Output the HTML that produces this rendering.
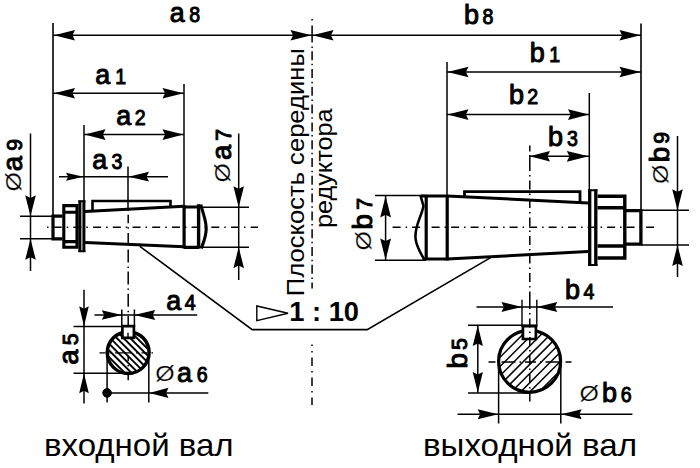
<!DOCTYPE html>
<html lang="ru"><head><meta charset="utf-8"><title>Валы редуктора</title>
<style>
html,body{margin:0;padding:0;background:#fff}
svg{display:block}
svg line,svg path,svg circle{stroke:#000}
.ah{fill:#000;stroke:none}
text{font-family:"Liberation Sans",sans-serif;fill:#000}
.lb text{stroke:#000;stroke-width:1px;stroke-linejoin:round}
.lb .dg{stroke-width:1px}
.lb text.dia{stroke:#fff;stroke-width:0.2px}
.bd{font-weight:bold}
</style></head><body>
<svg width="700" height="468" viewBox="0 0 700 468">
<rect width="700" height="468" fill="#fff"/>
<line x1="312.1" y1="18.9" x2="312.1" y2="288.5" stroke-width="1.5" stroke-dasharray="1.5 5 17 4 1.5 3.3 9 3.65 1.5 3.65 9 3.65 1.5 3.65 9 3.65 1.5 3.65 9 3.65 1.5 3.65 9 3.65 1.5 3.65 9 3.65 1.5 3.65 9 3.65 1.5 3.65 9 3.65 1.5 3.65 9 3.65 1.5 3.65 9 3.65 1.5 3.65 9 3.65 1.5 3.65 9 3.65 1.5 3.65 9 3.65 1.5 3.65 9 3.65 1.5 3.65 9 3.65 1.5 3.65 9 3.65 1.5 3.65"/>
<line x1="312" y1="344.5" x2="312" y2="405" stroke-width="1.5" stroke-dasharray="1.5 5 1.5 5 8.5 5 1.5 5 8.5 5 1.5 5 8.5 5"/>
<line x1="53" y1="23" x2="53" y2="216" stroke-width="1.6" />
<line x1="53" y1="35.3" x2="312" y2="35.3" stroke-width="1.5" />
<polygon class="ah" points="54.0,35.3 75.0,30.0 72.4,35.3 75.0,40.6"/>
<polygon class="ah" points="311.5,35.3 290.5,40.6 293.1,35.3 290.5,30.0"/>
<line x1="184" y1="84" x2="184" y2="206" stroke-width="1.5" />
<line x1="53" y1="93.3" x2="184" y2="93.3" stroke-width="1.5" />
<polygon class="ah" points="54.0,93.3 75.0,88.0 72.4,93.3 75.0,98.6"/>
<polygon class="ah" points="183.5,93.3 162.5,98.6 165.1,93.3 162.5,88.0"/>
<line x1="84" y1="125" x2="84" y2="210" stroke-width="1.5" />
<line x1="84" y1="134.6" x2="184" y2="134.6" stroke-width="1.5" />
<polygon class="ah" points="84.5,134.6 105.5,129.3 102.9,134.6 105.5,139.9"/>
<polygon class="ah" points="183.5,134.6 162.5,139.9 165.1,134.6 162.5,129.3"/>
<line x1="128" y1="166.5" x2="128" y2="211" stroke-width="1.5" />
<line x1="59" y1="176.7" x2="168" y2="176.7" stroke-width="1.5" />
<polygon class="ah" points="83.5,176.7 66.0,180.7 68.2,176.7 66.0,172.7"/>
<polygon class="ah" points="128.5,176.7 149.0,171.8 146.5,176.7 149.0,181.6"/>
<g class="lb" transform="translate(0,22.3)"><text font-size="26.8" transform="translate(169.87,0) scale(1.0,1)">a</text><text class="dg" font-size="21.3" transform="translate(189.22,0) scale(0.92,1)">8</text></g>
<g class="lb" transform="translate(0,84)"><text font-size="26.8" transform="translate(95.37,0) scale(1.0,1)">a</text><text class="dg" font-size="21.3" transform="translate(115.27,0) scale(0.92,1)">1</text></g>
<g class="lb" transform="translate(0,124.8)"><text font-size="26.8" transform="translate(116.37,0) scale(1.0,1)">a</text><text class="dg" font-size="21.3" transform="translate(134.68,0) scale(0.92,1)">2</text></g>
<g class="lb" transform="translate(0,168.7)"><text font-size="26.8" transform="translate(92.27,0) scale(1.0,1)">a</text><text class="dg" font-size="21.3" transform="translate(111.42,0) scale(0.92,1)">3</text></g>
<line x1="47" y1="227.3" x2="258" y2="227.3" stroke-width="1.5" stroke-dasharray="1.5 5.2 8 5"/>
<path d="M62.5,216.2 H53 V238.8 H62.5" stroke-width="3.2" fill="none"/>
<path d="M63.8,205.6 H77 V247.2 H63.8 Z M64,212.3 H77 M64,241.6 H77" stroke-width="3.1" fill="none"/>
<path d="M79.9,200.5 V252 M83.9,200.5 V252" stroke-width="3" fill="none"/>
<path d="M78.4,201.2 H85.4 M78.4,251.3 H85.4" stroke-width="2" fill="none"/>
<path d="M85,211.5 L184,206.3 M85,242.5 L184,246.8" stroke-width="3" fill="none"/>
<path d="M92.5,211 V201 H170.5 V206.5" stroke-width="2.6" fill="none"/>
<path d="M184.1,205 V248.5 M184,207 H199 M184,247.3 H199" stroke-width="3.2" fill="none"/>
<path d="M198.6,204.2 V248.6" stroke-width="3.4" fill="none"/>
<path d="M200.8,204.6 C202.5,212 206.2,220 206.2,228.5 C206.2,237 203.5,242 201.2,248.5" stroke-width="3.1" fill="none"/>
<line x1="199" y1="207.2" x2="249" y2="207.2" stroke-width="1.5" />
<line x1="199" y1="247.2" x2="249" y2="247.2" stroke-width="1.5" />
<line x1="20" y1="216.3" x2="53" y2="216.3" stroke-width="1.5" />
<line x1="20" y1="238.8" x2="53" y2="238.8" stroke-width="1.5" />
<line x1="30.5" y1="133.5" x2="30.5" y2="271" stroke-width="1.5" />
<polygon class="ah" points="30.5,216.3 25.2,195.3 30.5,197.9 35.8,195.3"/>
<polygon class="ah" points="30.5,238.8 35.8,259.8 30.5,257.2 25.2,259.8"/>
<g class="lb" transform="translate(21.9,0) rotate(-90)"><text class="dia" font-size="21.3" transform="translate(-191.61,-0.6) scale(1.17,1)">Ø</text><text font-size="26.8" transform="translate(-171.24,0) scale(1.03,1)">a</text><text class="dg" font-size="21.3" transform="translate(-150.7,0) scale(1.0,1)">9</text></g>
<line x1="238.7" y1="133.5" x2="238.7" y2="280" stroke-width="1.5" />
<polygon class="ah" points="238.7,207.2 233.4,186.2 238.7,188.8 244.0,186.2"/>
<polygon class="ah" points="238.7,247.2 244.0,268.2 238.7,265.6 233.4,268.2"/>
<g class="lb" transform="translate(230.5,0) rotate(-90)"><text class="dia" font-size="21.3" transform="translate(-182.41,-0.6) scale(1.17,1)">Ø</text><text font-size="26.8" transform="translate(-159.94,0) scale(1.03,1)">a</text><text class="dg" font-size="21.3" transform="translate(-140.69,0) scale(1.0,1)">7</text></g>
<path d="M139.8,246.3 L252.2,329.6 H367.2 L490.6,257.6" stroke-width="1.6" fill="none"/>
<path d="M256.8,306 V320.7 L288,313.2 Z" stroke-width="1.4" fill="none"/>
<text class="bd" x="289.2" y="321.2" font-size="27.3">1 : 10</text>
<text class="tx" transform="translate(303.8,296.2) rotate(-90)" font-size="24.3" textLength="248" lengthAdjust="spacingAndGlyphs">Плоскость середины</text>
<text class="tx" transform="translate(332.3,228) rotate(-90)" font-size="24.3" textLength="119.5" lengthAdjust="spacingAndGlyphs">редуктора</text>
<line x1="128.2" y1="214.7" x2="128.2" y2="246" stroke-width="1.5" stroke-dasharray="8.5 4 1.5 4.2 11.5 5"/>
<line x1="128.2" y1="249.4" x2="128.2" y2="329" stroke-width="1.5" stroke-dasharray="13 4 1.5 3.7"/>
<line x1="128.2" y1="341" x2="128.2" y2="381" stroke-width="1.5" stroke-dasharray="0 14.4 5.6 4 1.5 8.4 5.4 5"/>
<clipPath id="cl"><circle cx="128.2" cy="352.6" r="20.9"/></clipPath>
<g clip-path="url(#cl)" stroke-width="1.9"><line x1="47.7" y1="322.6" x2="107.7" y2="382.6"/><line x1="54.4" y1="322.6" x2="114.4" y2="382.6"/><line x1="61.1" y1="322.6" x2="121.1" y2="382.6"/><line x1="67.8" y1="322.6" x2="127.8" y2="382.6"/><line x1="74.5" y1="322.6" x2="134.5" y2="382.6"/><line x1="81.2" y1="322.6" x2="141.2" y2="382.6"/><line x1="87.9" y1="322.6" x2="147.9" y2="382.6"/><line x1="94.6" y1="322.6" x2="154.6" y2="382.6"/><line x1="101.3" y1="322.6" x2="161.3" y2="382.6"/><line x1="108.0" y1="322.6" x2="168.0" y2="382.6"/><line x1="114.7" y1="322.6" x2="174.7" y2="382.6"/><line x1="121.4" y1="322.6" x2="181.4" y2="382.6"/><line x1="128.1" y1="322.6" x2="188.1" y2="382.6"/><line x1="134.8" y1="322.6" x2="194.8" y2="382.6"/><line x1="141.5" y1="322.6" x2="201.5" y2="382.6"/><line x1="148.2" y1="322.6" x2="208.2" y2="382.6"/><line x1="154.9" y1="322.6" x2="214.9" y2="382.6"/></g>
<circle cx="128.2" cy="352.6" r="20.9" fill="none" stroke-width="3.5"/>
<rect x="122.4" y="326.2" width="11.5" height="11.6" fill="#fff" stroke="none"/>
<path d="M122.4,326.2 H133.9 V337.8 H122.4 Z" stroke-width="2.7" fill="none"/>
<line x1="128" y1="332.7" x2="128" y2="337" stroke-width="1.4" />
<line x1="121.8" y1="309.5" x2="121.8" y2="327" stroke-width="1.5" />
<line x1="134.4" y1="309.5" x2="134.4" y2="327" stroke-width="1.5" />
<line x1="99.5" y1="352.8" x2="153.5" y2="352.8" stroke-width="1.3" stroke-dasharray="6 4 1.5 4 17 4 1.5 4 6 4 1.5"/>
<line x1="94.5" y1="315" x2="197.2" y2="315" stroke-width="1.5" />
<polygon class="ah" points="121.8,315.0 101.8,319.8 104.2,315.0 101.8,310.2"/>
<polygon class="ah" points="134.2,315.0 155.2,310.0 152.7,315.0 155.2,320.0"/>
<g class="lb" transform="translate(0,310)"><text font-size="26.8" transform="translate(166.17,0) scale(1.0,1)">a</text><text class="dg" font-size="21.3" transform="translate(184.71,0) scale(0.92,1)">4</text></g>
<line x1="73.5" y1="326.5" x2="122" y2="326.5" stroke-width="1.5" />
<line x1="73.5" y1="373.3" x2="127.5" y2="373.3" stroke-width="1.4" />
<line x1="84" y1="289.7" x2="84" y2="403.6" stroke-width="1.5" />
<polygon class="ah" points="84.0,326.3 79.2,306.3 84.0,308.7 88.8,306.3"/>
<polygon class="ah" points="84.0,373.2 88.8,393.2 84.0,390.8 79.2,393.2"/>
<g class="lb" transform="translate(77.8,0) rotate(-90)"><text font-size="26.8" transform="translate(-364.74,0) scale(1.03,1)">a</text><text class="dg" font-size="21.3" transform="translate(-345.35,0) scale(1.0,1)">5</text></g>
<line x1="107.1" y1="352" x2="107.1" y2="402.6" stroke-width="1.5" />
<line x1="148.8" y1="352" x2="148.8" y2="402.6" stroke-width="1.5" />
<line x1="107" y1="392.9" x2="208.3" y2="392.9" stroke-width="1.5" />
<polygon class="ah" points="149.2,392.9 168.5,387.8 166.1,392.9 168.5,398.0"/>
<circle cx="107.1" cy="392.9" r="4.3" fill="#000" stroke="none"/>
<g class="lb" transform="translate(0,382)"><text class="dia" font-size="21.3" transform="translate(155.19,-0.6) scale(1.17,1)">Ø</text><text font-size="26.8" transform="translate(176.97,0) scale(1.0,1)">a</text><text class="dg" font-size="21.3" transform="translate(196.76,0) scale(0.92,1)">6</text></g>
<line x1="641" y1="23.5" x2="641" y2="210" stroke-width="1.6" />
<line x1="312" y1="35.3" x2="641" y2="35.3" stroke-width="1.5" />
<polygon class="ah" points="312.5,35.3 333.5,30.0 330.9,35.3 333.5,40.6"/>
<polygon class="ah" points="640.5,35.3 619.5,40.6 622.1,35.3 619.5,30.0"/>
<line x1="447" y1="62" x2="447" y2="196" stroke-width="1.5" />
<line x1="447" y1="72" x2="641" y2="72" stroke-width="1.5" />
<polygon class="ah" points="447.5,72.0 468.5,66.7 465.9,72.0 468.5,77.3"/>
<polygon class="ah" points="640.5,72.0 619.5,77.3 622.1,72.0 619.5,66.7"/>
<line x1="589.3" y1="93" x2="589.3" y2="190" stroke-width="1.5" />
<line x1="447" y1="114.6" x2="589.3" y2="114.6" stroke-width="1.5" />
<polygon class="ah" points="447.5,114.6 468.5,109.3 465.9,114.6 468.5,119.9"/>
<polygon class="ah" points="589.0,114.6 568.0,119.9 570.6,114.6 568.0,109.3"/>
<line x1="530" y1="156.3" x2="589.3" y2="156.3" stroke-width="1.5" />
<polygon class="ah" points="529.5,156.3 550.0,151.1 547.5,156.3 550.0,161.5"/>
<polygon class="ah" points="588.8,156.3 566.8,161.7 569.4,156.3 566.8,150.9"/>
<g class="lb" transform="translate(0,24.2)"><text font-size="27" transform="translate(463.97,0) scale(1.0,1)">b</text><text class="dg" font-size="21.3" transform="translate(482.62,0) scale(0.92,1)">8</text></g>
<g class="lb" transform="translate(0,61.7)"><text font-size="27" transform="translate(529.77,0) scale(1.0,1)">b</text><text class="dg" font-size="21.3" transform="translate(549.27,0) scale(0.92,1)">1</text></g>
<g class="lb" transform="translate(0,104)"><text font-size="27" transform="translate(508.97,0) scale(1.0,1)">b</text><text class="dg" font-size="21.3" transform="translate(527.28,0) scale(0.92,1)">2</text></g>
<g class="lb" transform="translate(0,145.5)"><text font-size="27" transform="translate(548.07,0) scale(1.0,1)">b</text><text class="dg" font-size="21.3" transform="translate(566.92,0) scale(0.92,1)">3</text></g>
<line x1="392.6" y1="227.3" x2="655" y2="227.3" stroke-width="1.5" stroke-dasharray="8 5 1.5 5"/>
<line x1="529.8" y1="145.6" x2="529.8" y2="300" stroke-width="1.5" stroke-dasharray="6 3.5 16 4 1.5 4 9 4 1.5 4 9 4 1.5 4 9 4 1.5 4 9 4 1.5 4 9 4 1.5 4 9 4 1.5 4 9 4 1.5 4 9 4 1.5 4 9 4 1.5 4 9 4 1.5 4 9 4 1.5 4"/>
<path d="M421,196 H447.2 M424,259 H447.2" stroke-width="3" fill="none"/>
<path d="M426.2,196 V259 M447.2,195 V260.5" stroke-width="3.2" fill="none"/>
<path d="M420.3,195 L423.5,206 C421,218 414.5,226 415.5,238 C416,246 420,252 424.5,260" stroke-width="2.6" fill="none"/>
<path d="M447.2,196 L588,203 M447.2,259 L588,251.5" stroke-width="3" fill="none"/>
<path d="M464.5,196.5 V191.7 H580 V202" stroke-width="2.8" fill="none"/>
<path d="M589.7,189.5 V265.7 M595.8,189.5 V265.7" stroke-width="3.3" fill="none"/>
<path d="M588,190.2 H597.5 M588,265 H597.5" stroke-width="2" fill="none"/>
<path d="M597.5,196.2 H624.8 V258 H597.5 M597.5,207.8 H625 M597.5,246 H625" stroke-width="3.4" fill="none"/>
<path d="M625,210.7 H640.9 V244.2 H625" stroke-width="3.3" fill="none"/>
<line x1="375" y1="195.6" x2="426" y2="195.6" stroke-width="1.5" />
<line x1="375" y1="260.3" x2="426" y2="260.3" stroke-width="1.5" />
<line x1="385.6" y1="195.6" x2="385.6" y2="260.2" stroke-width="1.5" />
<polygon class="ah" points="385.6,195.9 391.0,217.4 385.6,214.8 380.2,217.4"/>
<polygon class="ah" points="385.6,260.0 380.2,238.5 385.6,241.1 391.0,238.5"/>
<g class="lb" transform="translate(372,0) rotate(-90)"><text class="dia" font-size="21.3" transform="translate(-250.61,-0.6) scale(1.17,1)">Ø</text><text font-size="27" transform="translate(-229.46,0) scale(1.03,1)">b</text><text class="dg" font-size="21.3" transform="translate(-209.79,0) scale(1.0,1)">7</text></g>
<line x1="641" y1="210.2" x2="689" y2="210.2" stroke-width="1.5" />
<line x1="641" y1="245" x2="689" y2="245" stroke-width="1.5" />
<line x1="677.5" y1="136" x2="677.5" y2="277" stroke-width="1.5" />
<polygon class="ah" points="677.5,210.2 672.2,189.2 677.5,191.8 682.8,189.2"/>
<polygon class="ah" points="677.5,245.0 682.8,266.0 677.5,263.4 672.2,266.0"/>
<g class="lb" transform="translate(669,0) rotate(-90)"><text class="dia" font-size="21.3" transform="translate(-184.11,-0.6) scale(1.17,1)">Ø</text><text font-size="27" transform="translate(-162.36,0) scale(1.03,1)">b</text><text class="dg" font-size="21.3" transform="translate(-143.8,0) scale(1.0,1)">9</text></g>
<clipPath id="cr"><circle cx="529.6" cy="361.3" r="31"/></clipPath>
<g clip-path="url(#cr)" stroke-width="1.5"><line x1="400.8" y1="401.3" x2="480.8" y2="321.3"/><line x1="410.0" y1="401.3" x2="490.0" y2="321.3"/><line x1="419.2" y1="401.3" x2="499.2" y2="321.3"/><line x1="428.4" y1="401.3" x2="508.4" y2="321.3"/><line x1="437.6" y1="401.3" x2="517.6" y2="321.3"/><line x1="446.8" y1="401.3" x2="526.8" y2="321.3"/><line x1="456.0" y1="401.3" x2="536.0" y2="321.3"/><line x1="465.2" y1="401.3" x2="545.2" y2="321.3"/><line x1="474.4" y1="401.3" x2="554.4" y2="321.3"/><line x1="483.6" y1="401.3" x2="563.6" y2="321.3"/><line x1="492.8" y1="401.3" x2="572.8" y2="321.3"/><line x1="502.0" y1="401.3" x2="582.0" y2="321.3"/><line x1="511.2" y1="401.3" x2="591.2" y2="321.3"/><line x1="520.4" y1="401.3" x2="600.4" y2="321.3"/><line x1="529.6" y1="401.3" x2="609.6" y2="321.3"/><line x1="538.8" y1="401.3" x2="618.8" y2="321.3"/><line x1="548.0" y1="401.3" x2="628.0" y2="321.3"/><line x1="557.2" y1="401.3" x2="637.2" y2="321.3"/><line x1="566.4" y1="401.3" x2="646.4" y2="321.3"/><line x1="575.6" y1="401.3" x2="655.6" y2="321.3"/><line x1="584.8" y1="401.3" x2="664.8" y2="321.3"/></g>
<circle cx="529.6" cy="361.3" r="31" fill="none" stroke-width="3.2"/>
<rect x="522.9" y="326" width="13" height="13" fill="#fff" stroke="none"/>
<path d="M522.9,326.2 V339 H535.9 V326.2 Z" stroke-width="2.7" fill="none"/>
<line x1="522" y1="299.8" x2="522" y2="327" stroke-width="1.4" />
<line x1="536.8" y1="299.8" x2="536.8" y2="327" stroke-width="1.4" />
<line x1="488.5" y1="362" x2="571.5" y2="362" stroke-width="1.3" stroke-dasharray="7 6 14 4 1.5 4 11 4 1.5 4 14 6 7"/>
<line x1="529.8000000000001" y1="300" x2="529.8000000000001" y2="404" stroke-width="1.5" stroke-dasharray="9 4 1.5 4"/>
<line x1="476.5" y1="306.9" x2="613" y2="306.9" stroke-width="1.5" />
<polygon class="ah" points="522.0,306.9 501.5,311.9 503.9,306.9 501.5,301.9"/>
<polygon class="ah" points="536.8,306.9 557.3,301.9 554.9,306.9 557.3,311.9"/>
<g class="lb" transform="translate(0,298.5)"><text font-size="27" transform="translate(565.07,0) scale(1.0,1)">b</text><text class="dg" font-size="21.3" transform="translate(583.51,0) scale(0.92,1)">4</text></g>
<line x1="468" y1="325.2" x2="536.4" y2="325.2" stroke-width="1.4" />
<line x1="468" y1="393" x2="530.5" y2="393" stroke-width="1.4" />
<line x1="477.8" y1="325.5" x2="477.8" y2="392.7" stroke-width="1.5" />
<polygon class="ah" points="477.8,325.6 482.9,346.1 477.8,343.6 472.7,346.1"/>
<polygon class="ah" points="477.8,392.6 472.7,372.1 477.8,374.6 482.9,372.1"/>
<g class="lb" transform="translate(467.3,0) rotate(-90)"><text font-size="27" transform="translate(-368.46,0) scale(1.03,1)">b</text><text class="dg" font-size="21.3" transform="translate(-349.95,0) scale(1.0,1)">5</text></g>
<line x1="498.6" y1="361" x2="498.6" y2="423.5" stroke-width="1.5" />
<line x1="560.8" y1="361" x2="560.8" y2="423.5" stroke-width="1.5" />
<line x1="457.6" y1="414.3" x2="632.4" y2="414.3" stroke-width="1.5" />
<polygon class="ah" points="498.2,414.3 477.7,419.3 480.1,414.3 477.7,409.3"/>
<polygon class="ah" points="561.2,414.3 581.7,409.3 579.3,414.3 581.7,419.3"/>
<g class="lb" transform="translate(0,401.5)"><text class="dia" font-size="21.3" transform="translate(579.49,-0.6) scale(1.17,1)">Ø</text><text font-size="27" transform="translate(601.97,0) scale(1.0,1)">b</text><text class="dg" font-size="21.3" transform="translate(620.76,0) scale(0.92,1)">6</text></g>
<text class="tx" x="44" y="456.3" font-size="32" textLength="189.5" lengthAdjust="spacingAndGlyphs">входной вал</text>
<text class="tx" x="423" y="456.3" font-size="32" textLength="214" lengthAdjust="spacingAndGlyphs">выходной вал</text>
</svg>
</body></html>
